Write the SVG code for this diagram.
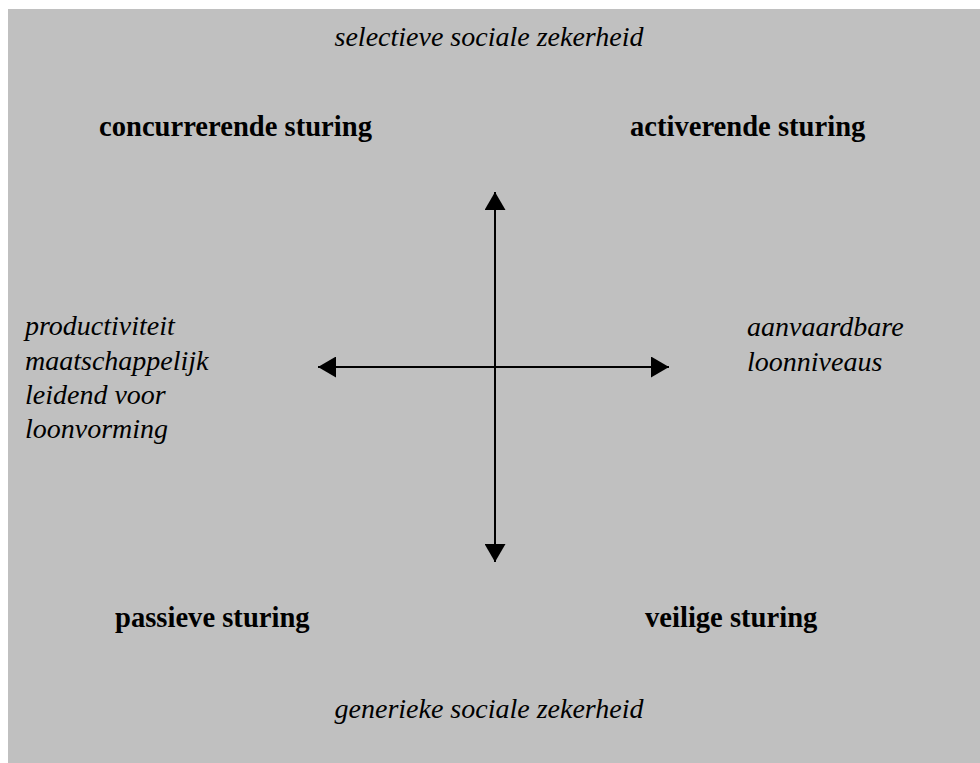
<svg xmlns="http://www.w3.org/2000/svg" width="980" height="763" viewBox="0 0 980 763">
<style>
.t{font-family:"Liberation Serif","Times New Roman",serif;font-size:28px;fill:#000}
.b{font-weight:bold;font-size:28.6px}
.i{font-style:italic}
.ax{stroke:#000;stroke-width:2;fill:none}
</style>
<defs>
<marker id="ah" viewBox="0 0 18 21" refX="18" refY="10.5" markerWidth="18" markerHeight="21" markerUnits="userSpaceOnUse" orient="auto-start-reverse">
<path d="M0,0 L18,10.5 L0,21 Z" fill="#000"/>
</marker>
</defs>
<rect x="8" y="9" width="972" height="754" fill="#c0c0c0"/>
<g id="connectors">
<line class="ax" x1="495" y1="192" x2="495" y2="562" marker-start="url(#ah)" marker-end="url(#ah)"/>
<line class="ax" x1="318" y1="367" x2="669" y2="367" marker-start="url(#ah)" marker-end="url(#ah)"/>
</g>
<g id="top"><text class="t i" x="489" y="46" text-anchor="middle">selectieve sociale zekerheid</text></g>
<g id="concurrerende"><text class="t b" x="99" y="136">concurrerende sturing</text></g>
<g id="activerende"><text class="t b" x="630" y="136">activerende sturing</text></g>
<g id="left"><text class="t i" x="25" y="335">productiviteit</text><text class="t i" x="25" y="370">maatschappelijk</text><text class="t i" x="25" y="404">leidend voor</text><text class="t i" x="25" y="438">loonvorming</text></g>
<g id="right"><text class="t i" x="747" y="336">aanvaardbare</text><text class="t i" x="747" y="371">loonniveaus</text></g>
<g id="passieve"><text class="t b" x="115" y="627">passieve sturing</text></g>
<g id="veilige"><text class="t b" x="645" y="627">veilige sturing</text></g>
<g id="bottom"><text class="t i" x="489" y="718" text-anchor="middle">generieke sociale zekerheid</text></g>
</svg>
